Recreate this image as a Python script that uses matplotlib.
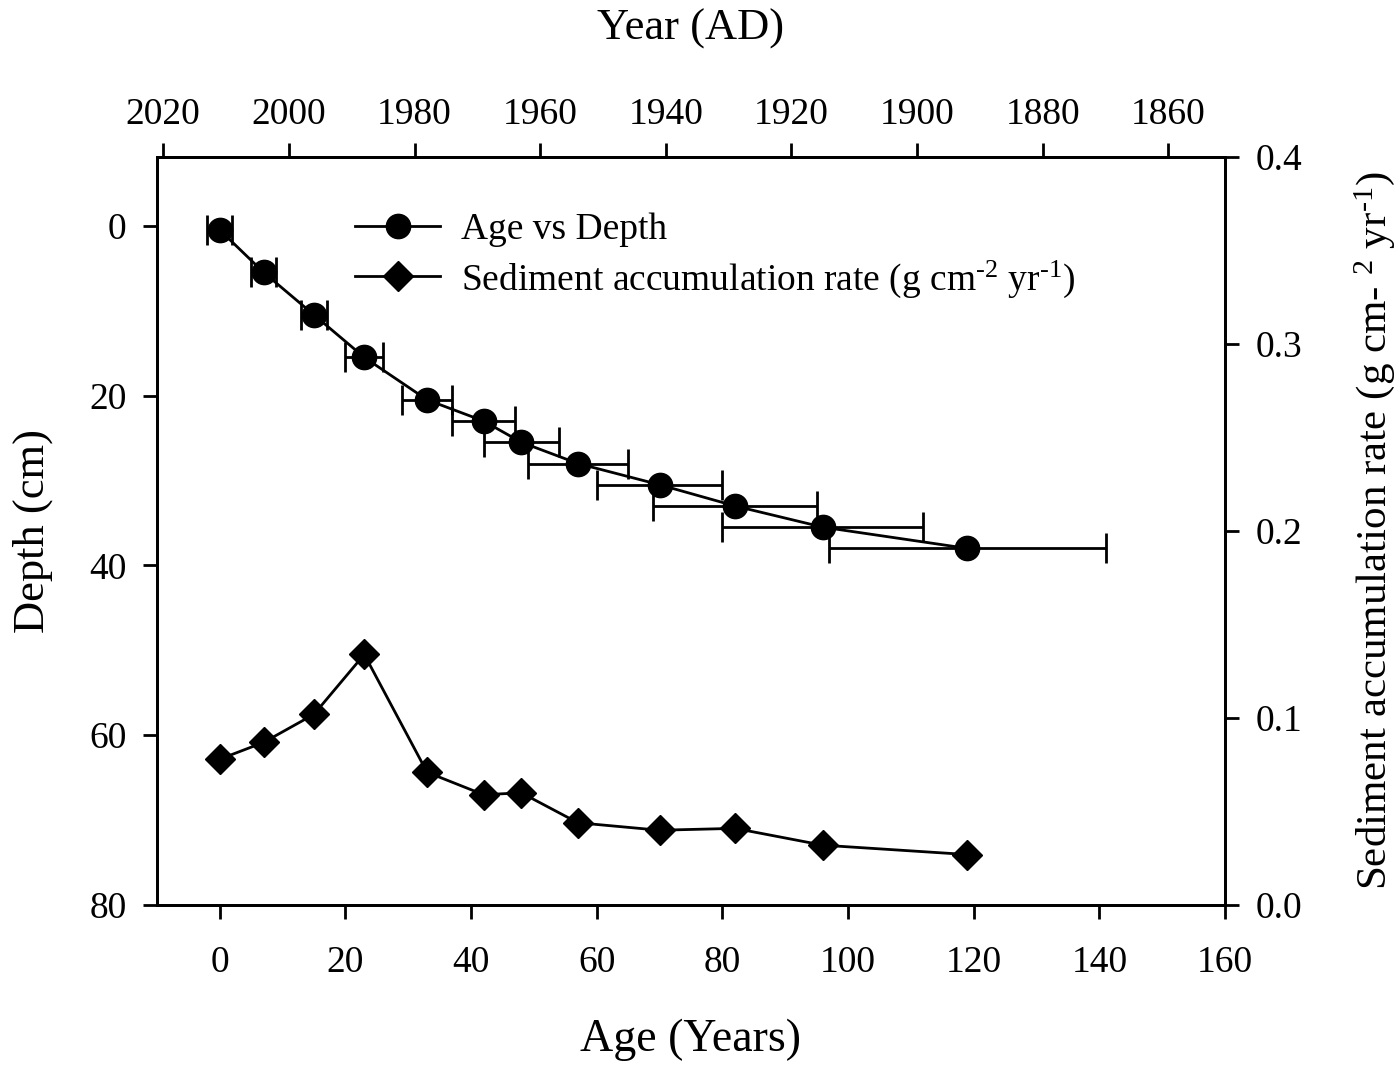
import numpy as np
import matplotlib
matplotlib.use("Agg")
import matplotlib.pyplot as plt
from matplotlib.lines import Line2D

plt.rcParams['font.family'] = ['Liberation Serif', 'DejaVu Serif']
plt.rcParams['mathtext.fontset'] = 'custom'
plt.rcParams['mathtext.rm'] = 'Liberation Serif'
plt.rcParams['mathtext.it'] = 'Liberation Serif:italic'
plt.rcParams['mathtext.bf'] = 'Liberation Serif:bold'

# datos
age = [0, 7, 15, 23, 33, 42, 48, 57, 70, 82, 96, 119]
depth = [0.5, 5.5, 10.5, 15.5, 20.5, 23, 25.5, 28, 30.5, 33, 35.5, 38]
age_err = [2, 2, 2, 3, 4, 5, 6, 8, 10, 13, 16, 22]
sar = [0.078, 0.087, 0.102, 0.134, 0.071, 0.059, 0.060, 0.044, 0.040, 0.041, 0.032, 0.027]

age_ticks = [0, 20, 40, 60, 80, 100, 120, 140, 160]
depth_ticks = [0, 20, 40, 60, 80]
sar_ticks = [0.0, 0.1, 0.2, 0.3, 0.4]
year_ticks = [2020, 2000, 1980, 1960, 1940, 1920, 1900, 1880, 1860]
ref_year = 2011

lw = 2.0

fig = plt.figure(figsize=(14, 10.65), dpi=100)
ax = fig.add_axes([0.1121, 0.1502, 0.875 - 0.1121, 0.8526 - 0.1502])
ax2 = ax.twinx()

# edad vs profundidad con barras de error
ax.errorbar(age, depth, xerr=age_err, fmt='none', ecolor='black',
            elinewidth=lw, capsize=10.5, capthick=lw, zorder=2)
ax.plot(age, depth, '-o', color='black', lw=lw, markersize=17.5, zorder=3)

# tasa de acumulacion
ax2.plot(age, sar, '-D', color='black', lw=lw, markersize=15)

ax.set_xlim(-10, 160)
ax.set_ylim(80, -8.1)
ax2.set_ylim(0.0, 0.4)

ax.set_xticks(age_ticks)
ax.set_yticks(depth_ticks)
ax2.set_yticks(sar_ticks)
ax2.set_yticklabels([f"{v:.1f}" for v in sar_ticks])

ax.set_xlabel("Age (Years)", fontsize=33, labelpad=28)
ax.set_ylabel("Depth (cm)", fontsize=32, labelpad=26)
ax2.set_ylabel("Sediment accumulation rate (g cm- $^{2}$ yr$^{‐1}$)", fontsize=31, labelpad=36)

top = ax.secondary_xaxis('top', functions=(lambda a: ref_year - a, lambda y: ref_year - y))
top.set_xticks(year_ticks)
top.set_xlabel("Year (AD)", fontsize=32, labelpad=42)

for a in (ax, ax2):
    a.tick_params(direction='out', length=10, width=lw, labelsize=27, pad=12)
    for s in a.spines.values():
        s.set_linewidth(lw)
top.tick_params(direction='out', length=10, width=lw, labelsize=27, pad=8)
top.spines['top'].set_linewidth(lw)
ax.tick_params(axis='x', pad=19)

handles = [
    Line2D([], [], color='black', lw=lw, marker='o', markersize=17.5),
    Line2D([], [], color='black', lw=lw, marker='D', markersize=15),
]
labels = ["Age vs Depth", "Sediment accumulation rate (g cm$^{‐2}$ yr$^{‐1}$)"]
leg = ax2.legend(handles, labels, loc='center left', bbox_to_anchor=(0.2536, 0.7595),
                 bbox_transform=fig.transFigure, frameon=False, fontsize=27,
                 handlelength=2.27, handletextpad=0.56, labelspacing=0.3,
                 borderpad=0, borderaxespad=0)

plt.savefig("out.png", dpi=100)
